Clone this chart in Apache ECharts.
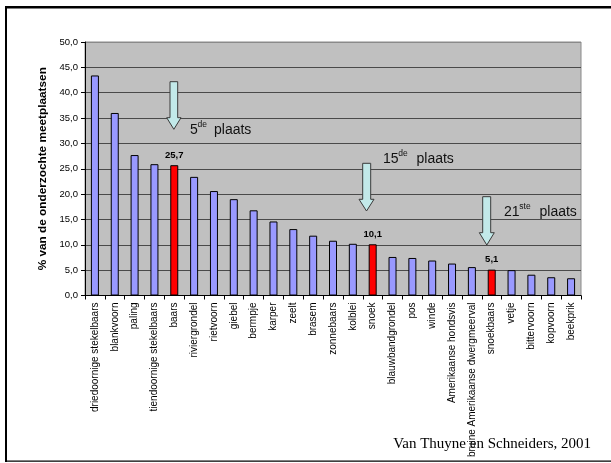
<!DOCTYPE html>
<html>
<head>
<meta charset="utf-8">
<script src="https://cdn.jsdelivr.net/npm/echarts@6/dist/echarts.min.js"></script>
<style>
html,body{margin:0;padding:0;background:#fff;}
#c{width:611px;height:463px;}
</style>
</head>
<body>
<div id="c"></div>
<script>
const categories = ['driedoornige stekelbaars','blankvoorn','paling','tiendoornige stekelbaars','baars','riviergrondel','rietvoorn','giebel','bermpje','karper','zeelt','brasem','zonnebaars','kolblei','snoek','blauwbandgrondel','pos','winde','Amerikaanse hondsvis','bruine Amerikaanse dwergmeerval','snoekbaars','vetje','bittervoorn','kopvoorn','beekprik'];
const values = [43.4, 36.0, 27.7, 25.9, 25.7, 23.4, 20.6, 19.0, 16.8, 14.6, 13.1, 11.8, 10.8, 10.2, 10.1, 7.6, 7.4, 6.9, 6.3, 5.6, 5.1, 5.0, 4.1, 3.6, 3.4];
const highlighted = ['baars','snoek','snoekbaars'];
const yTicks = [0,5,10,15,20,25,30,35,40,45,50];
const axisTitle = '% van de onderzochte meetplaatsen';
const sourceText = 'Van Thuyne en Schneiders, 2001';
const annotations = [
  {num:'5', sup:'de', word:'plaats'},
  {num:'15', sup:'de', word:'plaats'},
  {num:'21', sup:'ste', word:'plaats'}
];

const fmt = v => v.toFixed(1).replace('.', ',');
const font = '"Liberation Sans", Arial, sans-serif';

const chart = echarts.init(document.getElementById('c'), null, {renderer:'canvas'});

const data = categories.map((c,i) => {
  const hi = highlighted.includes(c);
  return {
    value: values[i],
    itemStyle: {color: hi ? '#ff0000' : '#9999ff', borderColor:'#000', borderWidth:1},
    label: {show: hi}
  };
});

const splitColors = yTicks.map((t,i) => i === yTicks.length-1 ? '#8a8a8a' : '#4a4a4a');

const mctx = document.createElement('canvas').getContext('2d');
function textW(t, f) { mctx.font = f; return mctx.measureText(t).width; }

function arrow(shL, shR, top, headY, hL, hR, tipY) {
  const cx = (hL + hR) / 2;
  return {
    type:'polygon',
    shape:{points:[[shL,top],[shR,top],[shR,headY],[hR,headY],[cx,tipY],[hL,headY],[shL,headY]]},
    style:{fill:'#c2e9e9', stroke:'#3a3a3a', lineWidth:1},
    z:100
  };
}
function annText(a, x, base, wordX) {
  const bigF = '14px ' + font, smallF = '8.5px ' + font;
  const supX = x + textW(a.num, bigF) - 0.3;
  return [
    {type:'text', x:x, y:base+3, style:{text:a.num, font:bigF, fill:'#111', verticalAlign:'bottom'}, z:100},
    {type:'text', x:supX, y:base-4.5, style:{text:a.sup, font:smallF, fill:'#111', verticalAlign:'bottom'}, z:100},
    {type:'text', x:wordX, y:base+3, style:{text:a.word, font:bigF, fill:'#111', verticalAlign:'bottom'}, z:100}
  ];
}

const graphics = [
  {type:'rect', shape:{x:5, y:6, width:606, height:2.5}, style:{fill:'#000'}, z:200},
  {type:'rect', shape:{x:5, y:6, width:2, height:456}, style:{fill:'#000'}, z:200},
  {type:'rect', shape:{x:5, y:460.5, width:606, height:1.3}, style:{fill:'#000'}, z:200},
  arrow(170, 177.7, 81.7, 117.7, 166.7, 181, 129.3),
  arrow(362.7, 370.7, 163.3, 199.3, 359, 374, 211),
  arrow(482.7, 490.7, 196.7, 232.7, 479.3, 494.3, 245),
  ...annText(annotations[0], 190, 134, 214),
  ...annText(annotations[1], 383, 162.7, 416.5),
  ...annText(annotations[2], 504, 215.7, 539.5),
  {type:'text', x:591, y:452, style:{text:sourceText, font:'15px "Liberation Serif", "Times New Roman", serif', fill:'#000', align:'right', verticalAlign:'bottom'}, z:150}
];

chart.setOption({
  animation:false,
  backgroundColor:'#ffffff',
  grid:{left:85, right:30, top:42, bottom:167.5, show:true, backgroundColor:'#c0c0c0', borderColor:'#8a8a8a', borderWidth:1},
  xAxis:{
    type:'category',
    data:categories,
    boundaryGap:true,
    axisLine:{show:true, lineStyle:{color:'#000', width:1}},
    axisTick:{show:true, alignWithLabel:false, length:4, lineStyle:{color:'#000'}},
    axisLabel:{rotate:90, interval:0, fontSize:10, fontFamily:font, color:'#000', margin:7}
  },
  yAxis:{
    type:'value',
    min:0, max:50, interval:5,
    name:axisTitle,
    nameLocation:'middle',
    nameGap:35,
    nameRotate:90,
    nameTextStyle:{fontSize:11.8, fontWeight:'bold', fontFamily:font, color:'#000'},
    axisLine:{show:true, lineStyle:{color:'#000', width:1}},
    axisTick:{show:true, length:4, lineStyle:{color:'#000'}},
    axisLabel:{fontSize:9.5, fontFamily:font, color:'#000', margin:7, formatter: v => fmt(v)},
    splitLine:{show:true, lineStyle:{color:splitColors, width:1}}
  },
  series:[{
    type:'bar',
    data:data,
    barWidth:8,
    label:{position:'top', distance:5, fontSize:9.5, fontWeight:'bold', fontFamily:font, color:'#000', formatter: p => fmt(p.value)}
  }],
  graphic:graphics
});
</script>
</body>
</html>
